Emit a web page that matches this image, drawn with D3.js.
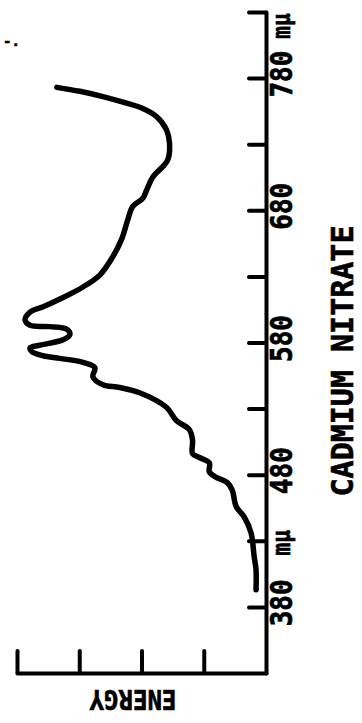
<!DOCTYPE html>
<html>
<head>
<meta charset="utf-8">
<script src="https://cdn.jsdelivr.net/npm/d3@7"></script>
<style>
  html, body { margin: 0; padding: 0; background: #fff; }
  svg { display: block; }
  text { font-family: "DejaVu Sans Mono", monospace; font-weight: bold; fill: #000; stroke: #000; stroke-width: 0.6; }
</style>
</head>
<body>
<svg id="chart" width="362" height="723"></svg>
<script>
// Wavelength (mμ) and relative energy
const wavelengths = [393,408,418,436,448,456,468,474,478,482,489,493,496,506,514,521,531,542,546,548,554,561,565,568,570,573,576,578,582,586,590,592,593,597,603,607,614,622,631,645,658,673,683,689,695,705,718,731,741,751,757,761,766,770,773];
const energy      = [0.16,0.16,0.19,0.24,0.35,0.48,0.54,0.62,0.80,0.91,0.91,1.07,1.18,1.18,1.23,1.44,1.60,2.03,2.35,2.62,2.78,2.75,2.94,3.31,3.58,3.76,3.79,3.63,3.26,3.15,3.20,3.47,3.79,3.87,3.79,3.58,3.26,2.94,2.67,2.46,2.32,2.22,2.14,1.98,1.92,1.82,1.58,1.55,1.60,1.76,1.98,2.24,2.62,2.99,3.36];

const wlTicks   = [380,430,480,530,580,630,680,730,780,830];
const wlLabels  = [380,480,580,680,780];
const energyTicks = [1,2,3,4];
const unitLabel = "mμ";
const titleText = "CADMIUM NITRATE";
const energyTitle = "ENERGY";

const svg = d3.select("#chart");

const y = d3.scaleLinear().domain([330, 830]).range([673, 12]);
const x = d3.scaleLinear().domain([0, 4]).range([266, 17]);

// vertical (wavelength) axis, ticks pointing left
const yAxis = svg.append("g")
  .attr("transform", `translate(${x(0)},0)`)
  .call(d3.axisRight(y).tickValues(wlTicks).tickSizeInner(-17).tickSizeOuter(0).tickFormat(""));
// horizontal (energy) axis, ticks pointing up
const xAxis = svg.append("g")
  .attr("transform", `translate(0,${y(330)})`)
  .call(d3.axisTop(x).tickValues(energyTicks).tickSizeInner(22).tickSizeOuter(0).tickFormat(""));

[yAxis, xAxis].forEach(g => {
  g.selectAll("path.domain").attr("stroke", "#000").attr("stroke-width", 4).attr("stroke-linecap", "round");
  g.selectAll(".tick line").attr("stroke", "#000").attr("stroke-width", 4).attr("stroke-linecap", "round");
});

// wavelength labels (rotated, tall lettering)
svg.append("g").selectAll("text")
  .data(wlLabels)
  .join("text")
  .attr("transform", d => `translate(292,${y(d) - 4}) rotate(-90) scale(1,1.15)`)
  .attr("text-anchor", "middle")
  .attr("font-size", 26)
  .text(d => d);

svg.append("text")
  .attr("transform", `translate(290,${y(430) + 2}) rotate(-90) scale(1,1.15)`)
  .attr("text-anchor", "middle")
  .attr("font-size", 21)
  .text(unitLabel);
svg.append("text")
  .attr("transform", `translate(290,${y(830) + 14}) rotate(-90) scale(1,1.15)`)
  .attr("text-anchor", "middle")
  .attr("font-size", 21)
  .text(unitLabel);

svg.append("text")
  .attr("transform", `translate(353,361) rotate(-90)`)
  .attr("text-anchor", "middle")
  .attr("font-size", 30)
  .text(titleText);

svg.append("text")
  .attr("transform", `translate(133,690) rotate(180) scale(1,1.1)`)
  .attr("text-anchor", "middle")
  .attr("font-size", 24)
  .text(energyTitle);

// stray mark at top-left
svg.append("text")
  .attr("x", 3).attr("y", 46)
  .attr("font-size", 14)
  .text("-.");

// the spectral curve
const pts = wavelengths.map((w, i) => [w, energy[i]]);
const line = d3.line()
  .x(d => x(d[1]))
  .y(d => y(d[0]))
  .curve(d3.curveCatmullRom.alpha(0.5));

svg.append("path")
  .datum(pts)
  .attr("d", line)
  .attr("fill", "none")
  .attr("stroke", "#000")
  .attr("stroke-width", 5.5)
  .attr("stroke-linecap", "round")
  .attr("stroke-linejoin", "round");
</script>
</body>
</html>
